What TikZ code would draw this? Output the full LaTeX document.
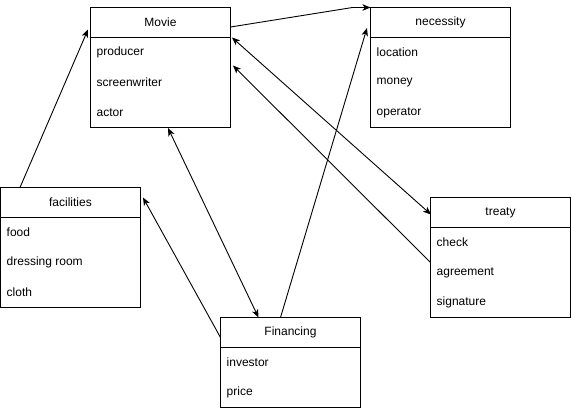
\documentclass[tikz,border=0pt]{standalone}
\usepackage{fontspec}
\setmainfont{Liberation Sans}
\usetikzlibrary{arrows.meta,calc}
\begin{document}
\begin{tikzpicture}[x=1pt,y=-1pt,
  frame/.style={draw, line width=1pt, minimum width=140pt, inner sep=0pt, outer sep=0pt},
  sep/.style={line width=1pt},
  title/.style={inner sep=0pt, font=\fontsize{12pt}{14pt}\selectfont},
  item/.style={anchor=west, inner sep=0pt, font=\fontsize{12pt}{14pt}\selectfont},
  tip/.tip={Stealth[length=8pt,width=6.5pt,inset=2.2pt]},
  conn/.style={line width=0.9pt, -tip},
  both/.style={line width=0.9pt, tip-tip}
]
\useasboundingbox (0,0) rectangle (571,408);

% Movie
\node[frame, minimum height=120pt] (movie) at (160.5,67.5) {};
\draw[sep] ($(movie.north west)+(0,30)$) -- ($(movie.north east)+(0,30)$);
\node[title] (movieT) at (160.5,22.5) {Movie};
\node[item] (movieA) at (96.5,52.5) {producer};
\node[item] (movieB) at (96.5,82.5) {screenwriter};
\node[item] (movieC) at (96.5,112.5) {actor};

% necessity
\node[frame, minimum height=120pt] (nec) at (440.5,67.5) {};
\draw[sep] ($(nec.north west)+(0,30)$) -- ($(nec.north east)+(0,30)$);
\node[title] (necT) at (440.5,22.5) {necessity};
\node[item] (necA) at (376.5,52.5) {location};
\node[item] (necB) at (376.5,82.5) {money};
\node[item] (necC) at (376.5,112.5) {operator};

% facilities
\node[frame, minimum height=120pt] (fac) at (70.5,247.5) {};
\draw[sep] ($(fac.north west)+(0,30)$) -- ($(fac.north east)+(0,30)$);
\node[title] (facT) at (70.5,202.5) {facilities};
\node[item] (facA) at (6.5,232.5) {food};
\node[item] (facB) at (6.5,262.5) {dressing room};
\node[item] (facC) at (6.5,292.5) {cloth};

% treaty
\node[frame, minimum height=120pt] (tre) at (500.5,257.5) {};
\draw[sep] ($(tre.north west)+(0,30)$) -- ($(tre.north east)+(0,30)$);
\node[title] (treT) at (500.5,212.5) {treaty};
\node[item] (treA) at (436.5,242.5) {check};
\node[item] (treB) at (436.5,272.5) {agreement};
\node[item] (treC) at (436.5,302.5) {signature};

% Financing
\node[frame, minimum height=90pt] (fin) at (290.5,362.5) {};
\draw[sep] ($(fin.north west)+(0,30)$) -- ($(fin.north east)+(0,30)$);
\node[title] (finT) at (290.5,332.5) {Financing};
\node[item] (finA) at (226.5,362.5) {investor};
\node[item] (finB) at (226.5,392.5) {price};

% connectors
\draw[conn] ($(fac.north west)+(19.5,0)$) -- ($(movie.north west)+(-2.5,22)$);
\draw[conn] ($(movie.north east)+(0,19.5)$) -- ($(nec.north west)+(-18,0)$) -- (nec.north west);
\draw[both] ($(movie.north east)+(1.5,30)$) -- ($(tre.north west)+(0.5,17)$);
\draw[conn] ($(tre.north west)+(0,65)$) -- ($(movie.north east)+(2.5,58)$);
\draw[both] ($(movie.south west)+(77.5,0.5)$) -- ($(fin.north west)+(38,0)$);
\draw[conn] ($(fin.north west)+(0,20)$) -- ($(fac.north east)+(2.5,10)$);
\draw[conn] ($(fin.north west)+(60,0)$) -- ($(nec.north west)+(-3.5,20.5)$);
\end{tikzpicture}
\end{document}
